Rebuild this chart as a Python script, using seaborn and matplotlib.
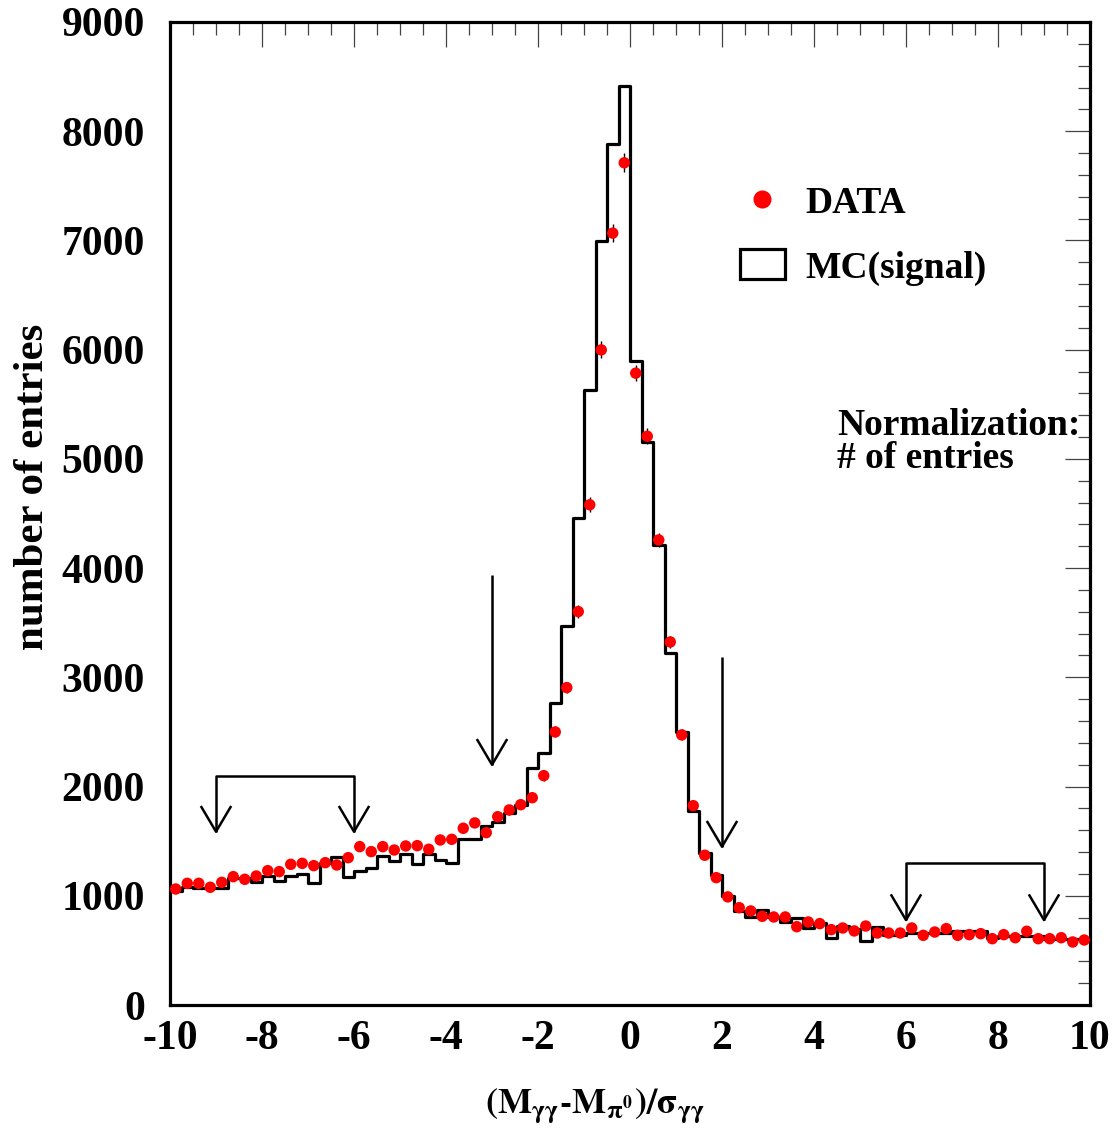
import numpy as np
import pandas as pd
import matplotlib
matplotlib.use("Agg")
import matplotlib.pyplot as plt
import seaborn as sns
from matplotlib.lines import Line2D
from matplotlib.patches import Patch

# ---------------- data ----------------
data_counts = [
    1062, 1114, 1114, 1078, 1123, 1175, 1151, 1181, 1230, 1221, 1288, 1297,
    1276, 1303, 1282, 1349, 1450, 1404, 1450, 1419, 1456, 1459, 1426, 1511,
    1517, 1618, 1667, 1578, 1724, 1786, 1834, 1898, 2100, 2500, 2906, 3602,
    4580, 5998, 7067, 7711, 5785, 5207, 4258, 3324, 2473, 1825, 1371, 1166,
    990, 891, 861, 812, 806, 806, 717, 760, 745, 690, 705, 678,
    723, 659, 659, 659, 705, 638, 668, 699, 638, 644, 653, 607,
    644, 616, 675, 607, 607, 616, 577, 595,
]
mc_counts = [
    1047, 1080, 1075, 1075, 1075, 1160, 1160, 1129, 1181, 1138, 1181, 1200,
    1120, 1300, 1355, 1175, 1225, 1250, 1360, 1320, 1385, 1293, 1385, 1330,
    1300, 1517, 1517, 1642, 1679, 1755, 1832, 2167, 2305, 2768, 3473, 4457,
    5635, 6996, 7885, 8410, 5897, 5158, 4212, 3226, 2503, 1779, 1395, 1190,
    995, 861, 809, 870, 809, 763, 794, 702, 748, 611, 723, 693,
    586, 717, 641, 641, 662, 662, 662, 662, 678, 678, 678, 611,
    635, 635, 635, 635, 604, 604, 604, 604,
]
x_ticks = [-10, -8, -6, -4, -2, 0, 2, 4, 6, 8, 10]
y_ticks = [0, 1000, 2000, 3000, 4000, 5000, 6000, 7000, 8000, 9000]
cut_arrows = [-3, 2]            # signal-window cut positions
sideband_left = [-9, -6]        # sideband ranges
sideband_right = [6, 9]
legend_labels = ["DATA", "MC(signal)"]
note_text = "Normalization:\n# of entries"

# ---------------- figure ----------------
sns.set_style("white")
plt.rcParams["font.family"] = ["Liberation Serif", "DejaVu Serif"]
plt.rcParams["font.weight"] = "bold"
plt.rcParams["mathtext.fontset"] = "stix"
plt.rcParams["text.color"] = "black"
plt.rcParams["legend.labelcolor"] = "black"

fig = plt.figure(figsize=(11.2, 11.32), dpi=100)
ax = fig.add_axes([170 / 1120, 1 - 1005 / 1132, 920 / 1120, 983 / 1132])

n_bins = len(mc_counts)
edges = np.linspace(-10, 10, n_bins + 1)
centers = 0.5 * (edges[:-1] + edges[1:])
df_mc = pd.DataFrame({"x": centers, "w": np.asarray(mc_counts, dtype=float)})

sns.histplot(data=df_mc, x="x", weights="w", bins=edges.tolist(), element="step",
             fill=False, color="black", linewidth=2.3, ax=ax)

data_arr = np.asarray(data_counts, dtype=float)
ax.errorbar(centers, data_arr, yerr=np.sqrt(data_arr), fmt="none",
            ecolor="black", elinewidth=1.0, capsize=0, zorder=3)
sns.scatterplot(x=centers, y=data_arr, color="red", s=68, edgecolor="none",
                zorder=4, ax=ax)

# ---------------- arrows ----------------
arrow_kw = dict(color="black", lw=1.8, solid_capstyle="butt")
hw, hh = 0.33, 235  # arrow-head half width (x units) / height (y units)

def head(x, tip):
    ax.plot([x - hw, x, x + hw], [tip + hh, tip, tip + hh], **arrow_kw)

arrow_tops = [3940, 3190]
arrow_tips = [2200, 1450]
for xa, top, tip in zip(cut_arrows, arrow_tops, arrow_tips):
    ax.plot([xa, xa], [top, tip], **arrow_kw)
    head(xa, tip)

for (x0, x1), ytop, tip in [(sideband_left, 2097, 1587), (sideband_right, 1297, 778)]:
    ax.plot([x0, x0, x1, x1], [tip, ytop, ytop, tip], **arrow_kw)
    head(x0, tip)
    head(x1, tip)

# ---------------- axes styling ----------------
ax.set_xlim(-10, 10)
ax.set_ylim(0, 9000)
ax.set_xticks(x_ticks)
ax.set_yticks(y_ticks)
ax.set_xticks(np.arange(-10, 10.01, 0.5), minor=True)
ax.set_yticks(np.arange(0, 9001, 200), minor=True)
ax.set_xticklabels([str(t) for t in x_ticks])
ax.set_yticklabels([str(t) for t in y_ticks])
ax.tick_params(which="both", direction="in", top=True, right=True,
               color="#444444", width=0.9)
ax.tick_params(which="major", length=18)
ax.tick_params(which="minor", length=9)
ax.tick_params(axis="x", which="major", labelsize=30, pad=11)
ax.tick_params(axis="y", which="major", labelsize=30, pad=18)
for lab in ax.get_xticklabels() + ax.get_yticklabels():
    lab.set_fontweight("bold")
    lab.set_color("black")
for sp in ax.spines.values():
    sp.set_linewidth(2.3)
    sp.set_color("black")

ax.set_ylabel("number of entries", fontsize=31, fontweight="bold", color="black")
ax.yaxis.set_label_coords(-0.128, 0.527)
ax.set_xlabel(r"$\mathbf{(M}_{\mathrm{\gamma\gamma}}\text{-}\mathbf{M}_{\mathrm{\pi}^{\mathbf{0}}}\mathbf{)/}\mathrm{\sigma}_{\mathrm{\gamma\gamma}}$",
              fontsize=26, color="black")
ax.xaxis.set_label_coords(0.462, -0.083)

# ---------------- legend & note ----------------
handles = [
    Line2D([], [], marker="o", color="red", ls="none", markersize=12),
    Patch(facecolor="white", edgecolor="black", linewidth=2.3),
]
leg = ax.legend(handles, legend_labels, loc="upper left",
                bbox_to_anchor=(0.603, 0.849), frameon=False,
                prop={"family": "Liberation Serif", "weight": "bold", "size": 27},
                handlelength=1.2, handleheight=0.85, handletextpad=0.55,
                labelspacing=0.75, borderaxespad=0, labelcolor="black")

ax.text(0.725, 0.607, note_text, transform=ax.transAxes, ha="left", va="top",
        fontsize=27, fontweight="bold", linespacing=0.9, color="black")

fig.savefig("out.png", dpi=100, facecolor="white")
